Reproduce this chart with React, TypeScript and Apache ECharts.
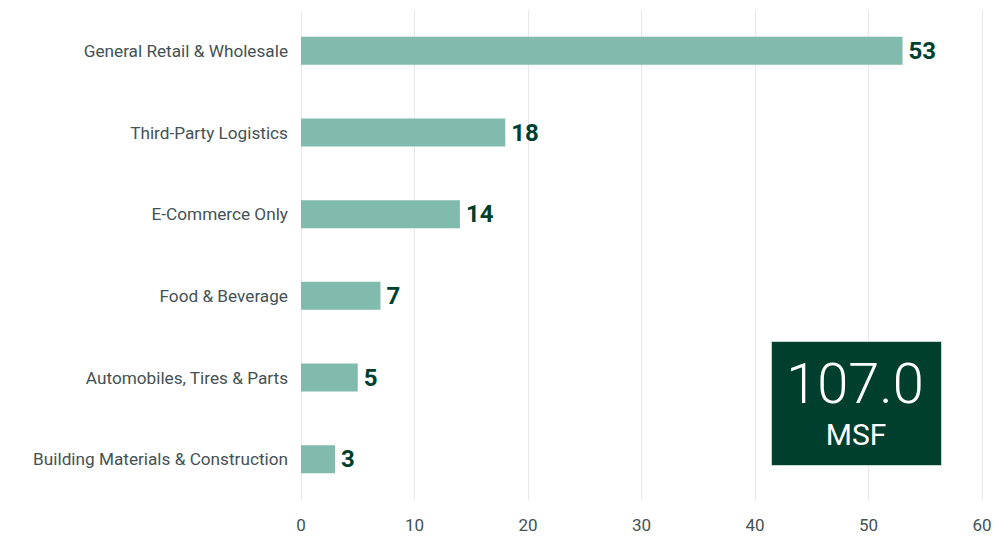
import React, { useEffect, useRef } from "react";
import * as echarts from "echarts";

const categories = [
  "General Retail & Wholesale",
  "Third-Party Logistics",
  "E-Commerce Only",
  "Food & Beverage",
  "Automobiles, Tires & Parts",
  "Building Materials & Construction",
];
const values = [53, 18, 14, 7, 5, 3];
const totalValue = "107.0";
const totalUnit = "MSF";

export default function App() {
  const ref = useRef<HTMLDivElement>(null);
  useEffect(() => {
    if (!ref.current) return;
    const chart = echarts.init(ref.current, undefined, { renderer: "svg" });
    chart.setOption({
      animation: false,
      grid: { left: 301, right: 18, top: 10, bottom: 37, containLabel: false },
      xAxis: {
        type: "value",
        min: 0,
        max: 60,
        interval: 10,
        axisLine: { show: false },
        axisTick: { show: false },
        splitLine: { show: true, lineStyle: { color: "#e8e8e8", width: 1 } },
        axisLabel: {
          color: "#435254",
          fontSize: 17,
          fontFamily: "Roboto, sans-serif",
          margin: 16,
        },
      },
      yAxis: {
        type: "category",
        data: categories,
        inverse: true,
        axisLine: { show: false },
        axisTick: { show: false },
        axisLabel: {
          color: "#435254",
          fontSize: 17.2,
          fontFamily: "Roboto, sans-serif",
          margin: 13,
          padding: [2, 0, 0, 0],
        },
      },
      series: [
        {
          type: "bar",
          data: values,
          barWidth: 28,
          itemStyle: { color: "#80bbad" },
          label: {
            show: true,
            position: "right",
            distance: 6,
            color: "#003f2d",
            fontSize: 24,
            fontWeight: "bold",
            fontFamily: "Roboto, sans-serif",
            padding: [6, 0, 0, 0],
          },
        },
      ],
      graphic: [
        {
          type: "rect",
          left: 771,
          top: 341,
          shape: { width: 170, height: 124 },
          style: { fill: "#003f2d", stroke: "#c8d8d2", lineWidth: 1 },
          z: 10,
        },
        {
          type: "text",
          x: 855,
          y: 384,
          style: {
            text: totalValue,
            fill: "#ffffff",
            fontSize: 56,
            fontWeight: 300,
            fontFamily: "Roboto, sans-serif",
            align: "center",
            verticalAlign: "middle",
          },
          z: 11,
        },
        {
          type: "text",
          x: 856,
          y: 434,
          style: {
            text: totalUnit,
            fill: "#ffffff",
            fontSize: 30,
            fontFamily: "Roboto, sans-serif",
            align: "center",
            verticalAlign: "middle",
          },
          z: 11,
        },
      ],
    });
    return () => chart.dispose();
  }, []);
  return <div ref={ref} style={{ width: 1000, height: 537, position: "absolute", left: 0, top: 0 }} />;
}
